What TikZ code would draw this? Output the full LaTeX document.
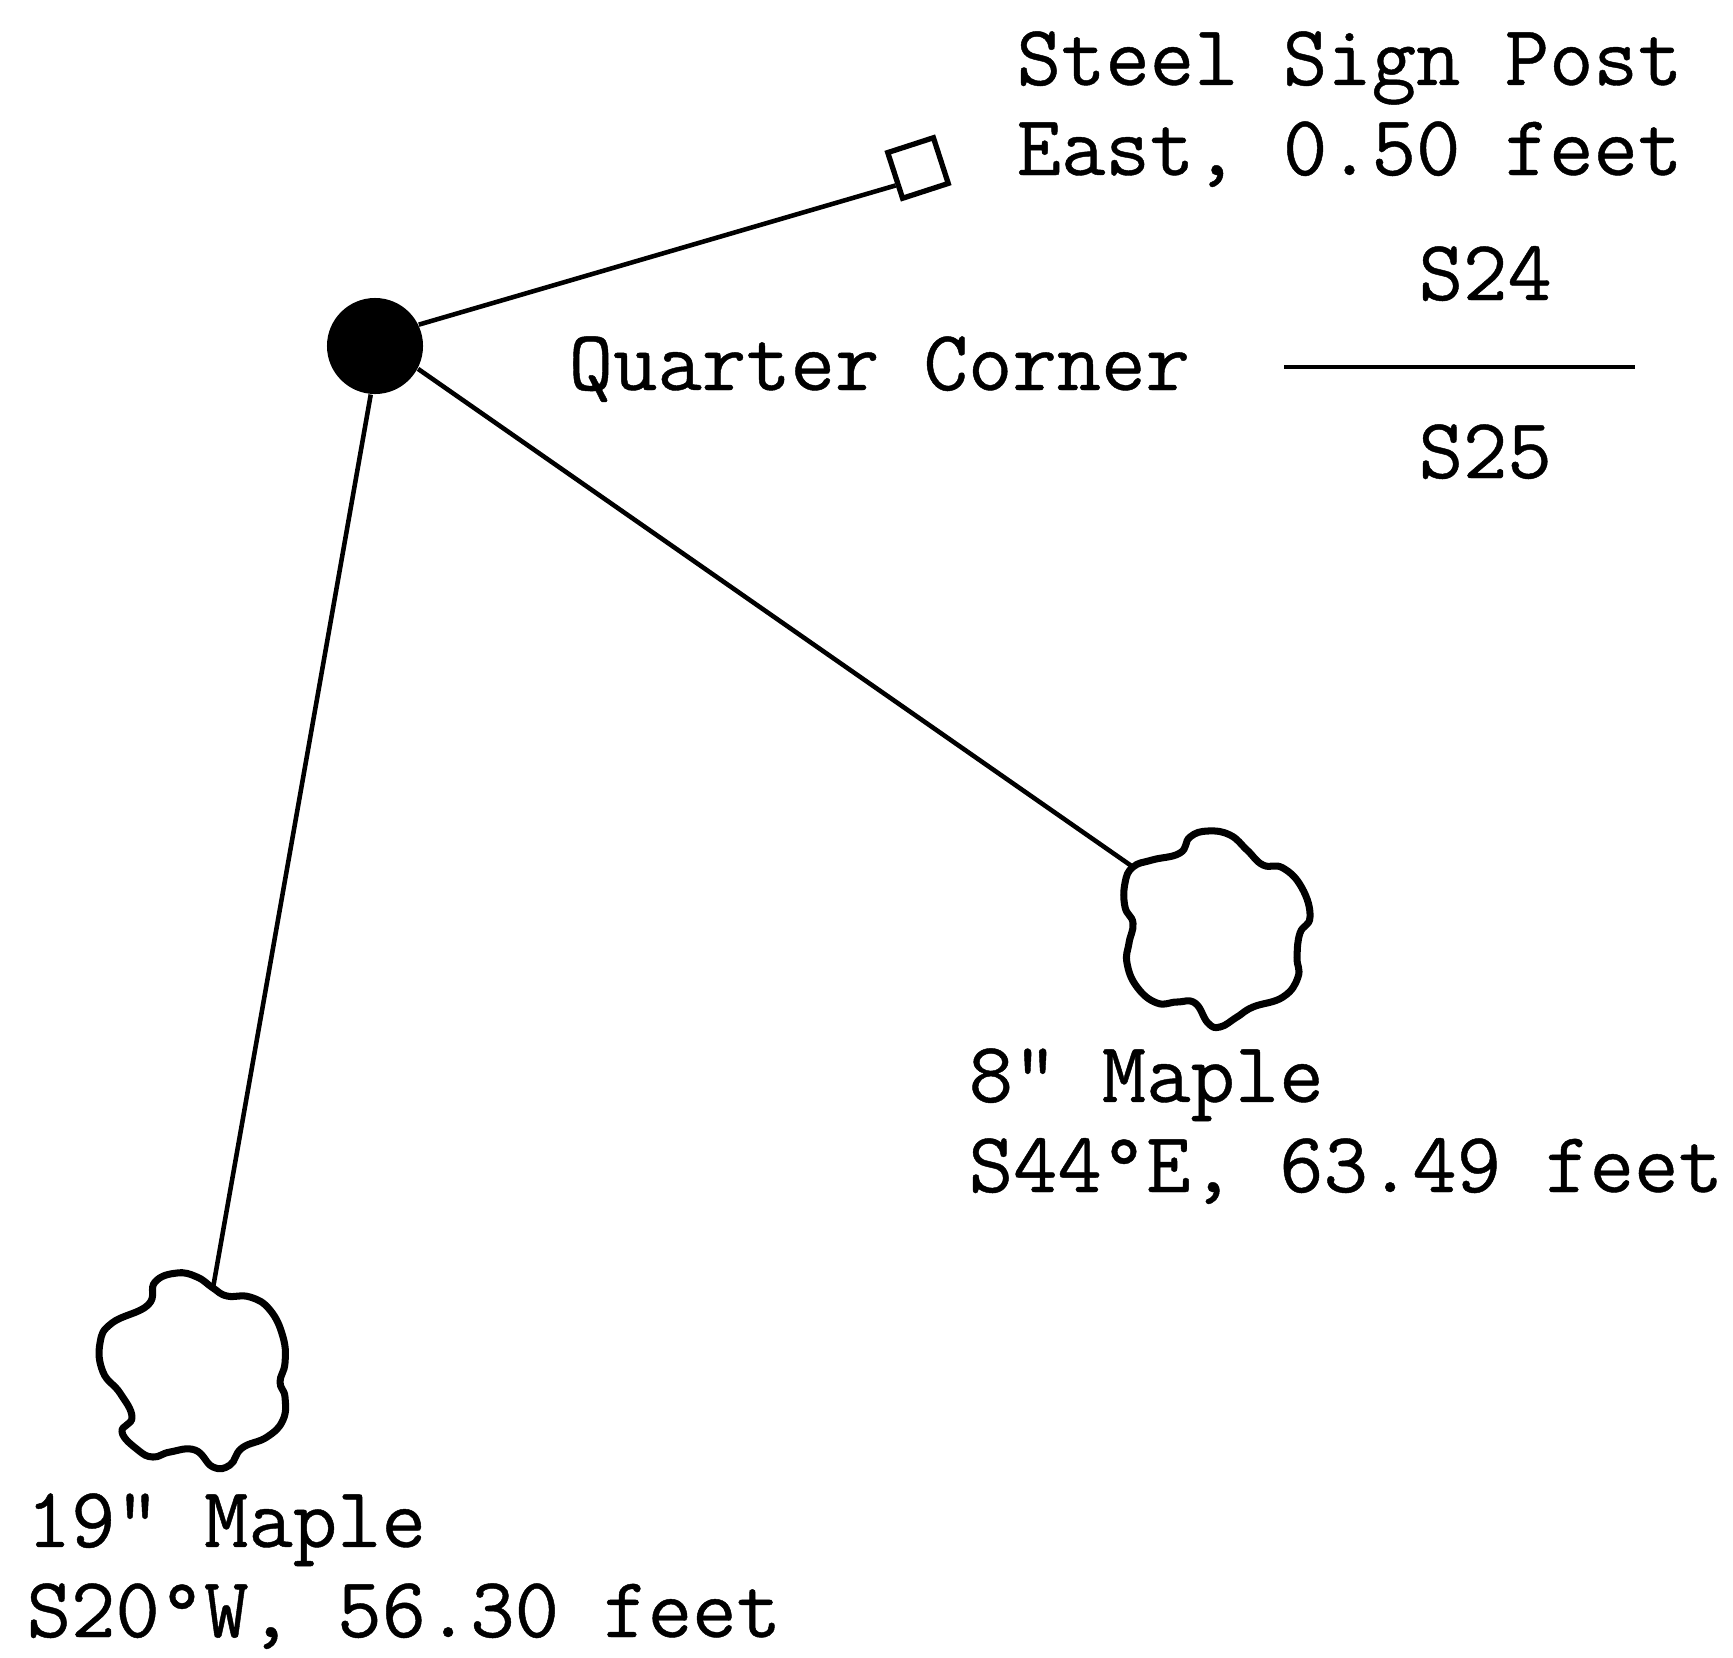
\documentclass[tikz,border=0pt]{standalone}
\usepackage{fontspec}
\newfontfamily\labelfont[FakeBold=0.5]{Latin Modern Mono}
\tikzset{
  label/.style={font=\fontsize{24.5}{25.6}\selectfont\labelfont, inner sep=0pt, align=left},
  line/.style={line width=1.3pt},
  tree/.style={line width=2pt, line join=round}
}
\begin{document}
\begin{tikzpicture}[x=0.01cm, y=-0.01cm]
      \useasboundingbox (0,0) rectangle (1733,1657);
      \node[circle, fill=black, inner sep=0pt, minimum size=0.96cm] (quarter) at (375,346) {};
      \node[draw, line width=1.5pt, rectangle, rotate=18, inner sep=0pt, minimum size=0.48cm] (post) at (918,168) {};
      \coordinate (maplea) at (1133,867);
      \coordinate (mapleb) at (213,1288);
      \coordinate (linel) at (1284,367);
      \coordinate (liner) at (1635,367);
      \draw[tree] plot[smooth cycle, tension=0.75] coordinates {
        (maplea) (1152,860) (1180,853) (1190,837) (1208,831) (1230,835) (1247,850)
        (1263,865) (1283,868) (1302,888) (1310,917) (1300,933) (1297,957) (1298,977)
        (1283,997) (1253,1007) (1237,1017) (1220,1027) (1208,1023) (1195,1003)
        (1177,1002) (1157,1003) (1137,987) (1127,963) (1129,943) (1133,923) (1125,907)
        (1125,883)};
      \draw[tree] plot[smooth cycle, tension=0.75] coordinates {
        (mapleb) (227,1296) (250,1297) (270,1310) (283,1337) (285,1363) (280,1382)
        (285,1397) (283,1420) (267,1437) (242,1448) (230,1465) (213,1467) (195,1450)
        (170,1452) (153,1457) (138,1450) (122,1432) (132,1417) (120,1393) (103,1372)
        (100,1343) (112,1323) (148,1305) (155,1282) (177,1273) (197,1277)};
      \node[label, anchor=base west] (posttext) at (1016,175) {Steel Sign Post\\East, 0.50 feet};
      \node[label, anchor=base west] (quartertext) at (568,390) {Quarter Corner};
      \node[label, anchor=base west] (north) at (1418,300) {S24};
      \node[label, anchor=base west] (south) at (1418,478) {S25};
      \node[label, anchor=base west] (mapleatext) at (968,1192) {8" Maple\\S44°E, 63.49 feet};
      \node[label, anchor=base west] (maplebtext) at (26,1637) {19" Maple\\S20°W, 56.30 feet};
      \begin{scope}[line]
        \draw (quarter.26) to (post.200);
        \draw (quarter.-28) to (maplea);
        \draw (quarter.-95) to (mapleb);
        \draw (linel) to (liner);
      \end{scope}
    \end{tikzpicture}
\end{document}
